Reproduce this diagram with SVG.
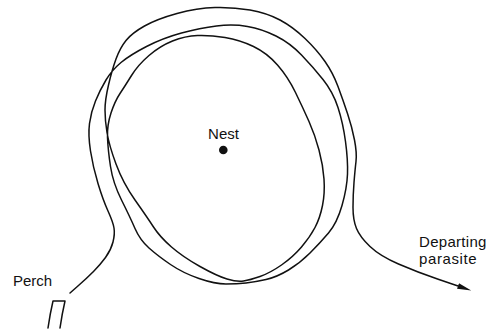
<svg xmlns="http://www.w3.org/2000/svg" width="490" height="330" viewBox="0 0 490 330">
  <style>
    .lbl { font-family: "Liberation Sans", Arial, sans-serif; font-size: 15px; fill: #111; }
    .line { fill: none; stroke: #111; stroke-width: 1.5; stroke-linecap: round; stroke-linejoin: round; }
  </style>
  <defs>
    <marker id="arrow" markerUnits="userSpaceOnUse" viewBox="0 0 14 8" markerWidth="14" markerHeight="8" refX="0" refY="4" orient="auto">
      <path d="M0,1 L14,4 L0,7 z" fill="#111"/>
    </marker>
  </defs>
  <rect width="490" height="330" fill="#fff"/>
  <g id="connectors">
    <path id="flight-path" class="line" marker-end="url(#arrow)" d="M70,293 L78.5,285.5 Q87,278 93.5,271.5 Q100,265 105.5,257.5 Q111,250 113,242 Q115,234 114,228 Q113,222 108,211 Q103,200 98,183.5 Q93,167 90.5,151 Q88,135 89.5,123.5 Q91,112 95.5,101 Q100,90 106,80 Q112,70 121,62.5 Q130,55 146.5,46.5 Q163,38 181.5,33 Q200,28 216.5,26 Q233,24 247.5,26.5 Q262,29 276,36 Q290,43 301.5,55 Q313,67 323,79.5 Q333,92 338,107.5 Q343,123 345.5,141.5 Q348,160 347.5,174 Q347,188 342,205.5 Q337,223 328.5,233 Q320,243 310,253 Q300,263 288.5,270 Q277,277 266,279.5 Q255,282 246,283 Q237,284 226,284 Q215,284 199,278.5 Q183,273 170.5,264.5 Q158,256 149,248 Q140,240 135,228.5 Q130,217 121.5,200 Q113,183 110.5,166.5 Q108,150 107.5,137.5 Q107,125 111,113 Q115,101 120,93.5 Q125,86 131.5,75.5 Q138,65 149,55.5 Q160,46 172.5,41 Q185,36 197.5,35.5 Q210,35 225,37.5 Q240,40 253.5,46.5 Q267,53 277.5,65 Q288,77 295.5,92.5 Q303,108 309,121.5 Q315,135 319,150 Q323,165 324,179 Q325,193 322.5,205.5 Q320,218 315,227.5 Q310,237 301.5,247 Q293,257 281.5,265 Q270,273 260,276.5 Q250,280 243.5,281 Q237,282 227,279 Q217,276 200,266.5 Q183,257 171.5,247 Q160,237 153.5,227 Q147,217 135,200 Q123,183 116,164 Q109,145 107,132.5 Q105,120 105,110 Q105,100 108.5,85 Q112,70 116,59 Q120,48 126,40.5 Q132,33 144.5,26 Q157,19 177,13.5 Q197,8 215,7.5 Q233,7 250,10 Q267,13 280,20 Q293,27 305,38.5 Q317,50 325,61.5 Q333,73 338,86.5 Q343,100 347.5,113.5 Q352,127 354.5,140 Q357,153 356,161.5 Q355,170 354,182.5 Q353,195 353,207.5 Q353,220 356.5,228.5 Q360,237 370,246.5 Q380,256 398.5,264 Q417,272 437.5,279 L458,286"/>
  </g>
  <g id="nest">
    <circle cx="223.3" cy="150" r="4.3" fill="#111"/>
    <text class="lbl" x="223.5" y="139" text-anchor="middle">Nest</text>
  </g>
  <g id="perch">
    <path class="line" d="M48,328 Q50,314 53,301 L65,301 Q62,314 60,328"/>
    <text class="lbl" x="13" y="286">Perch</text>
  </g>
  <g id="departing-parasite">
    <text class="lbl" x="419" y="247" letter-spacing="0.3">Departing</text>
    <text class="lbl" x="419" y="264" letter-spacing="0.6">parasite</text>
  </g>
</svg>
